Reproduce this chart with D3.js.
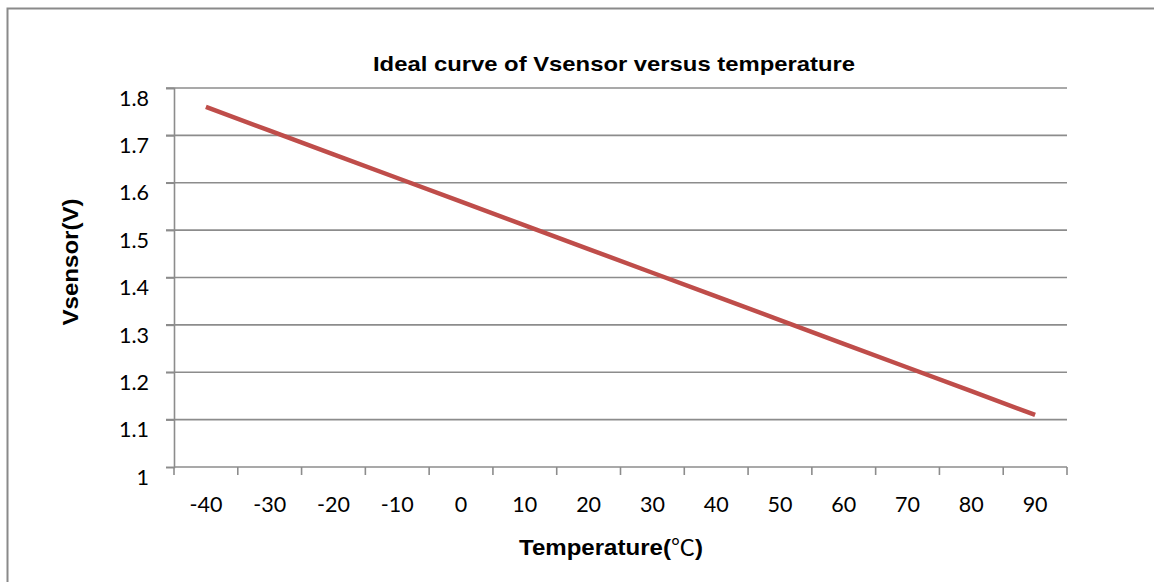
<!DOCTYPE html>
<html>
<head>
<meta charset="utf-8">
<script src="https://cdn.jsdelivr.net/npm/d3@7"></script>
<style>
  body { margin: 0; background: #fff; }
  svg { display: block; }
</style>
</head>
<body>
<svg id="Chart"></svg>
<script>
let temperatures = ["-40", "-30", "-20", "-10", "0", "10", "20", "30", "40", "50", "60", "70", "80", "90"];
let vsensor = [1.76, 1.71, 1.66, 1.61, 1.56, 1.51, 1.46, 1.41, 1.36, 1.31, 1.26, 1.21, 1.16, 1.11];
let yTicks = [1, 1.1, 1.2, 1.3, 1.4, 1.5, 1.6, 1.7, 1.8];

function getConfig() {
    let width = 1154;
    let height = 582;
    let margin = { top: 88, bottom: 115, left: 174, right: 87 };
    let container = d3.select("#Chart")
        .attr("width", width)
        .attr("height", height);
    return { width, height, margin, container }
}

function getScales(config) {
    let { width, height, margin } = config;
    let xScale = d3.scaleBand()
        .domain(temperatures)
        .range([margin.left, width - margin.right])
        .padding(0);
    let yScale = d3.scaleLinear()
        .domain([1, 1.8])
        .range([height - margin.bottom, margin.top]);
    return { xScale, yScale }
}

function drawFrame(config) {
    config.container.append("rect")
        .attr("x", 7.5).attr("y", 8.5)
        .attr("width", 1200).attr("height", 620)
        .attr("fill", "none")
        .attr("stroke", "#8a8a8a")
        .attr("stroke-width", 2);
}

function drawAxes(scales, config) {
    let { xScale, yScale } = scales;
    let { container, margin, width } = config;
    let left = margin.left, right = width - margin.right;

    // gridlines
    container.append("g").selectAll("line")
        .data(yTicks.slice(1))
        .enter().append("line")
        .attr("x1", left - 8).attr("x2", right)
        .attr("y1", d => yScale(d)).attr("y2", d => yScale(d))
        .attr("stroke", "#8c8c8c").attr("stroke-width", 1.6);

    // y axis
    let axisY = d3.axisLeft(yScale)
        .tickValues(yTicks)
        .tickSize(8)
        .tickFormat(d => String(d));
    let gy = container.append("g")
        .attr("transform", `translate(${left},0)`)
        .call(axisY);
    gy.select(".domain").attr("stroke", "#8c8c8c").attr("stroke-width", 1.6);
    gy.selectAll(".tick line").attr("stroke", "#8c8c8c").attr("stroke-width", 1.6);
    gy.selectAll(".tick text")
        .attr("x", -25).attr("dy", "0.8em")
        .style("font-family", "Lato, 'Open Sans', sans-serif")
        .style("font-size", "21.5px")
        .attr("fill", "#000");

    // x axis: category labels at band centres
    let axisX = d3.axisBottom(xScale).tickSize(0).tickPadding(0);
    let gx = container.append("g")
        .attr("transform", `translate(0,${yScale(1)})`)
        .call(axisX);
    gx.select(".domain").remove();
    gx.selectAll(".tick text")
        .attr("y", 45).attr("dy", 0)
        .style("font-family", "Lato, 'Open Sans', sans-serif")
        .style("font-size", "21.5px")
        .attr("fill", "#000");

    // x baseline and ticks at band edges
    let edges = temperatures.map(d => xScale(d)).concat([xScale.range()[1]]);
    container.append("line")
        .attr("x1", left).attr("x2", right)
        .attr("y1", yScale(1)).attr("y2", yScale(1))
        .attr("stroke", "#8c8c8c").attr("stroke-width", 1.6);
    container.append("g").selectAll("line")
        .data(edges)
        .enter().append("line")
        .attr("x1", d => d).attr("x2", d => d)
        .attr("y1", yScale(1)).attr("y2", yScale(1) + 8)
        .attr("stroke", "#8c8c8c").attr("stroke-width", 1.6);
}

function drawLine(scales, config) {
    let { xScale, yScale } = scales;
    let line = d3.line()
        .x((d, i) => xScale(temperatures[i]) + xScale.bandwidth() / 2)
        .y(d => yScale(d));
    config.container.append("path")
        .datum(vsensor)
        .attr("d", line)
        .attr("fill", "none")
        .attr("stroke", "#bf4d4a")
        .attr("stroke-width", 4.5);
}

function drawTitles(config) {
    let { container } = config;
    container.append("text")
        .attr("x", 614).attr("y", 71)
        .attr("text-anchor", "middle")
        .attr("textLength", 482)
        .attr("lengthAdjust", "spacingAndGlyphs")
        .style("font-family", "'Liberation Sans', Arial, sans-serif")
        .style("font-weight", "bold")
        .style("font-size", "21px")
        .text("Ideal curve of Vsensor versus temperature");

    let xTitle = container.append("text")
        .attr("x", 611).attr("y", 555)
        .attr("text-anchor", "middle")
        .attr("textLength", 184)
        .attr("lengthAdjust", "spacingAndGlyphs")
        .style("font-family", "'Liberation Sans', Arial, sans-serif")
        .style("font-weight", "bold")
        .style("font-size", "22px");
    xTitle.append("tspan").text("Temperature(");
    xTitle.append("tspan")
        .style("font-family", "'Noto Sans CJK SC', sans-serif")
        .style("font-weight", "normal")
        .text("℃");
    xTitle.append("tspan").text(")");

    container.append("text")
        .attr("transform", "translate(78,262) rotate(-90)")
        .attr("text-anchor", "middle")
        .attr("textLength", 127)
        .attr("lengthAdjust", "spacingAndGlyphs")
        .style("font-family", "'Liberation Sans', Arial, sans-serif")
        .style("font-weight", "bold")
        .style("font-size", "22px")
        .text("Vsensor(V)");
}

function drawChart() {
    let config = getConfig();
    let scales = getScales(config);
    drawFrame(config);
    drawAxes(scales, config);
    drawLine(scales, config);
    drawTitles(config);
}

drawChart();
</script>
</body>
</html>
